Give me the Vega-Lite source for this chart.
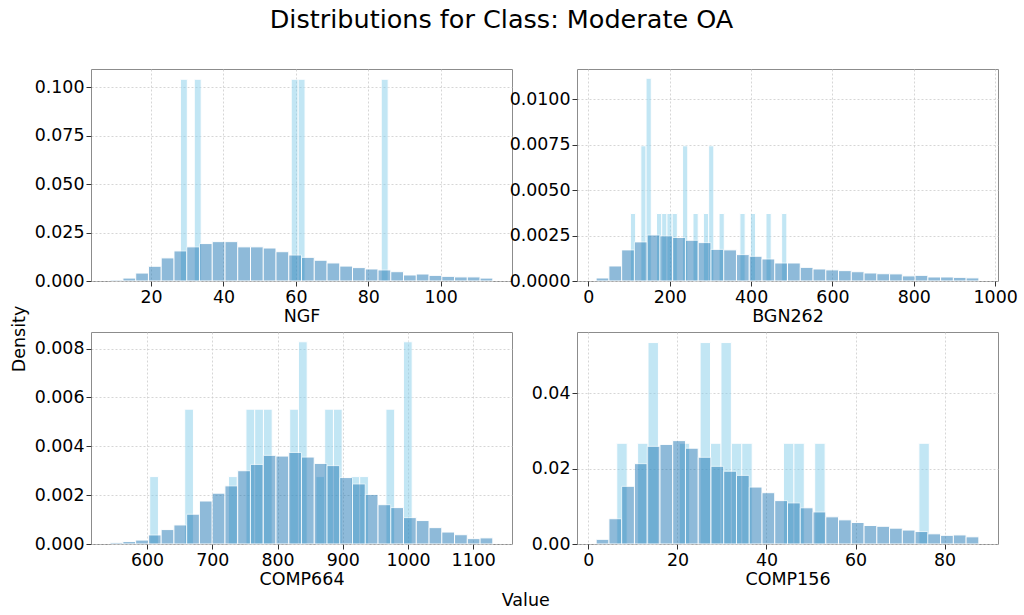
{
  "$schema": "https://vega.github.io/schema/vega-lite/v6.json",
  "background": "white",
  "padding": {"left": 11, "top": 8, "right": 5, "bottom": 5},
  "title": {"text": "Distributions for Class: Moderate OA", "fontSize": 25.5, "font": "DejaVu Sans", "fontWeight": "normal", "anchor": "middle", "offset": 35, "dx": -13, "color": "#000"},
  "data": {"values": [
    {"feature":"NGF","series":"All","start":8.70,"end":12.22,"density":0.0005},
    {"feature":"NGF","series":"All","start":12.22,"end":15.75,"density":0.0015},
    {"feature":"NGF","series":"All","start":15.75,"end":19.27,"density":0.0041},
    {"feature":"NGF","series":"All","start":19.27,"end":22.79,"density":0.0076},
    {"feature":"NGF","series":"All","start":22.79,"end":26.32,"density":0.0119},
    {"feature":"NGF","series":"All","start":26.32,"end":29.84,"density":0.0155},
    {"feature":"NGF","series":"All","start":29.84,"end":33.36,"density":0.0176},
    {"feature":"NGF","series":"All","start":33.36,"end":36.89,"density":0.0193},
    {"feature":"NGF","series":"All","start":36.89,"end":40.41,"density":0.0203},
    {"feature":"NGF","series":"All","start":40.41,"end":43.93,"density":0.0203},
    {"feature":"NGF","series":"All","start":43.93,"end":47.46,"density":0.0176},
    {"feature":"NGF","series":"All","start":47.46,"end":50.98,"density":0.0176},
    {"feature":"NGF","series":"All","start":50.98,"end":54.50,"density":0.0170},
    {"feature":"NGF","series":"All","start":54.50,"end":58.03,"density":0.0151},
    {"feature":"NGF","series":"All","start":58.03,"end":61.55,"density":0.0134},
    {"feature":"NGF","series":"All","start":61.55,"end":65.07,"density":0.0122},
    {"feature":"NGF","series":"All","start":65.07,"end":68.60,"density":0.0107},
    {"feature":"NGF","series":"All","start":68.60,"end":72.12,"density":0.0093},
    {"feature":"NGF","series":"All","start":72.12,"end":75.64,"density":0.0077},
    {"feature":"NGF","series":"All","start":75.64,"end":79.17,"density":0.0069},
    {"feature":"NGF","series":"All","start":79.17,"end":82.69,"density":0.0062},
    {"feature":"NGF","series":"All","start":82.69,"end":86.21,"density":0.0057},
    {"feature":"NGF","series":"All","start":86.21,"end":89.74,"density":0.0048},
    {"feature":"NGF","series":"All","start":89.74,"end":93.26,"density":0.0031},
    {"feature":"NGF","series":"All","start":93.26,"end":96.78,"density":0.0036},
    {"feature":"NGF","series":"All","start":96.78,"end":100.31,"density":0.0029},
    {"feature":"NGF","series":"All","start":100.31,"end":103.83,"density":0.0024},
    {"feature":"NGF","series":"All","start":103.83,"end":107.35,"density":0.0021},
    {"feature":"NGF","series":"All","start":107.35,"end":110.88,"density":0.0021},
    {"feature":"NGF","series":"All","start":110.88,"end":114.40,"density":0.0015},
    {"feature":"NGF","series":"Moderate OA","start":28.10,"end":30.01,"density":0.104},
    {"feature":"NGF","series":"Moderate OA","start":31.93,"end":33.84,"density":0.104},
    {"feature":"NGF","series":"Moderate OA","start":58.71,"end":60.62,"density":0.104},
    {"feature":"NGF","series":"Moderate OA","start":60.62,"end":62.53,"density":0.104},
    {"feature":"NGF","series":"Moderate OA","start":83.58,"end":85.49,"density":0.104},
    {"feature":"BGN262","series":"All","start":19.0,"end":50.37,"density":0.000165},
    {"feature":"BGN262","series":"All","start":50.37,"end":81.73,"density":0.000826},
    {"feature":"BGN262","series":"All","start":81.73,"end":113.1,"density":0.00171},
    {"feature":"BGN262","series":"All","start":113.1,"end":144.47,"density":0.00215},
    {"feature":"BGN262","series":"All","start":144.47,"end":175.83,"density":0.00253},
    {"feature":"BGN262","series":"All","start":175.83,"end":207.2,"density":0.00248},
    {"feature":"BGN262","series":"All","start":207.2,"end":238.57,"density":0.00239},
    {"feature":"BGN262","series":"All","start":238.57,"end":269.93,"density":0.00224},
    {"feature":"BGN262","series":"All","start":269.93,"end":301.3,"density":0.00211},
    {"feature":"BGN262","series":"All","start":301.3,"end":332.67,"density":0.00174},
    {"feature":"BGN262","series":"All","start":332.67,"end":364.03,"density":0.00171},
    {"feature":"BGN262","series":"All","start":364.03,"end":395.4,"density":0.00145},
    {"feature":"BGN262","series":"All","start":395.4,"end":426.77,"density":0.00136},
    {"feature":"BGN262","series":"All","start":426.77,"end":458.13,"density":0.00121},
    {"feature":"BGN262","series":"All","start":458.13,"end":489.5,"density":0.00099},
    {"feature":"BGN262","series":"All","start":489.5,"end":520.87,"density":0.00099},
    {"feature":"BGN262","series":"All","start":520.87,"end":552.23,"density":0.00075},
    {"feature":"BGN262","series":"All","start":552.23,"end":583.6,"density":0.00066},
    {"feature":"BGN262","series":"All","start":583.6,"end":614.97,"density":0.00061},
    {"feature":"BGN262","series":"All","start":614.97,"end":646.33,"density":0.00057},
    {"feature":"BGN262","series":"All","start":646.33,"end":677.7,"density":0.00051},
    {"feature":"BGN262","series":"All","start":677.7,"end":709.07,"density":0.00044},
    {"feature":"BGN262","series":"All","start":709.07,"end":740.43,"density":0.00040},
    {"feature":"BGN262","series":"All","start":740.43,"end":771.8,"density":0.00039},
    {"feature":"BGN262","series":"All","start":771.8,"end":803.17,"density":0.00028},
    {"feature":"BGN262","series":"All","start":803.17,"end":834.53,"density":0.00031},
    {"feature":"BGN262","series":"All","start":834.53,"end":865.9,"density":0.00022},
    {"feature":"BGN262","series":"All","start":865.9,"end":897.27,"density":0.00022},
    {"feature":"BGN262","series":"All","start":897.27,"end":928.63,"density":0.00020},
    {"feature":"BGN262","series":"All","start":928.63,"end":960.0,"density":0.00017},
    {"feature":"BGN262","series":"Moderate OA","start":103.30,"end":116.12,"density":0.00371},
    {"feature":"BGN262","series":"Moderate OA","start":128.94,"end":141.76,"density":0.00743},
    {"feature":"BGN262","series":"Moderate OA","start":141.76,"end":154.58,"density":0.01114},
    {"feature":"BGN262","series":"Moderate OA","start":167.40,"end":180.22,"density":0.00371},
    {"feature":"BGN262","series":"Moderate OA","start":180.22,"end":193.04,"density":0.00371},
    {"feature":"BGN262","series":"Moderate OA","start":193.04,"end":205.86,"density":0.00371},
    {"feature":"BGN262","series":"Moderate OA","start":205.86,"end":218.68,"density":0.00371},
    {"feature":"BGN262","series":"Moderate OA","start":231.50,"end":244.32,"density":0.00743},
    {"feature":"BGN262","series":"Moderate OA","start":257.14,"end":269.96,"density":0.00371},
    {"feature":"BGN262","series":"Moderate OA","start":282.78,"end":295.60,"density":0.00371},
    {"feature":"BGN262","series":"Moderate OA","start":295.60,"end":308.42,"density":0.00743},
    {"feature":"BGN262","series":"Moderate OA","start":321.24,"end":334.06,"density":0.00371},
    {"feature":"BGN262","series":"Moderate OA","start":372.52,"end":385.34,"density":0.00371},
    {"feature":"BGN262","series":"Moderate OA","start":398.16,"end":410.98,"density":0.00371},
    {"feature":"BGN262","series":"Moderate OA","start":436.62,"end":449.44,"density":0.00371},
    {"feature":"BGN262","series":"Moderate OA","start":475.08,"end":487.90,"density":0.00371},
    {"feature":"COMP664","series":"All","start":543.40,"end":562.95,"density":0.000055},
    {"feature":"COMP664","series":"All","start":562.95,"end":582.51,"density":0.0001},
    {"feature":"COMP664","series":"All","start":582.51,"end":602.06,"density":0.00016},
    {"feature":"COMP664","series":"All","start":602.06,"end":621.61,"density":0.00037},
    {"feature":"COMP664","series":"All","start":621.61,"end":641.17,"density":0.00059},
    {"feature":"COMP664","series":"All","start":641.17,"end":660.72,"density":0.00078},
    {"feature":"COMP664","series":"All","start":660.72,"end":680.27,"density":0.00122},
    {"feature":"COMP664","series":"All","start":680.27,"end":699.82,"density":0.00176},
    {"feature":"COMP664","series":"All","start":699.82,"end":719.38,"density":0.00208},
    {"feature":"COMP664","series":"All","start":719.38,"end":738.93,"density":0.00238},
    {"feature":"COMP664","series":"All","start":738.93,"end":758.48,"density":0.0030},
    {"feature":"COMP664","series":"All","start":758.48,"end":778.04,"density":0.00326},
    {"feature":"COMP664","series":"All","start":778.04,"end":797.59,"density":0.00363},
    {"feature":"COMP664","series":"All","start":797.59,"end":817.14,"density":0.0036},
    {"feature":"COMP664","series":"All","start":817.14,"end":836.70,"density":0.00375},
    {"feature":"COMP664","series":"All","start":836.70,"end":856.25,"density":0.00356},
    {"feature":"COMP664","series":"All","start":856.25,"end":875.80,"density":0.0033},
    {"feature":"COMP664","series":"All","start":875.80,"end":895.35,"density":0.00321},
    {"feature":"COMP664","series":"All","start":895.35,"end":914.91,"density":0.00272},
    {"feature":"COMP664","series":"All","start":914.91,"end":934.46,"density":0.00246},
    {"feature":"COMP664","series":"All","start":934.46,"end":954.01,"density":0.00203},
    {"feature":"COMP664","series":"All","start":954.01,"end":973.57,"density":0.00161},
    {"feature":"COMP664","series":"All","start":973.57,"end":993.12,"density":0.00149},
    {"feature":"COMP664","series":"All","start":993.12,"end":1012.67,"density":0.00108},
    {"feature":"COMP664","series":"All","start":1012.67,"end":1032.23,"density":0.00096},
    {"feature":"COMP664","series":"All","start":1032.23,"end":1051.78,"density":0.00067},
    {"feature":"COMP664","series":"All","start":1051.78,"end":1071.33,"density":0.00049},
    {"feature":"COMP664","series":"All","start":1071.33,"end":1090.88,"density":0.00038},
    {"feature":"COMP664","series":"All","start":1090.88,"end":1110.44,"density":0.00022},
    {"feature":"COMP664","series":"All","start":1110.44,"end":1130.0,"density":0.00025},
    {"feature":"COMP664","series":"Moderate OA","start":604.10,"end":617.51,"density":0.00276},
    {"feature":"COMP664","series":"Moderate OA","start":657.74,"end":671.15,"density":0.00552},
    {"feature":"COMP664","series":"Moderate OA","start":724.79,"end":738.20,"density":0.00276},
    {"feature":"COMP664","series":"Moderate OA","start":751.61,"end":765.02,"density":0.00552},
    {"feature":"COMP664","series":"Moderate OA","start":765.02,"end":778.43,"density":0.00552},
    {"feature":"COMP664","series":"Moderate OA","start":778.43,"end":791.84,"density":0.00552},
    {"feature":"COMP664","series":"Moderate OA","start":818.66,"end":832.07,"density":0.00552},
    {"feature":"COMP664","series":"Moderate OA","start":832.07,"end":845.48,"density":0.00828},
    {"feature":"COMP664","series":"Moderate OA","start":858.89,"end":872.30,"density":0.00276},
    {"feature":"COMP664","series":"Moderate OA","start":872.30,"end":885.71,"density":0.00552},
    {"feature":"COMP664","series":"Moderate OA","start":885.71,"end":899.12,"density":0.00552},
    {"feature":"COMP664","series":"Moderate OA","start":912.53,"end":925.94,"density":0.00276},
    {"feature":"COMP664","series":"Moderate OA","start":925.94,"end":939.35,"density":0.00276},
    {"feature":"COMP664","series":"Moderate OA","start":966.17,"end":979.58,"density":0.00552},
    {"feature":"COMP664","series":"Moderate OA","start":992.99,"end":1006.40,"density":0.00828},
    {"feature":"COMP156","series":"All","start":1.74,"end":4.61,"density":0.00124},
    {"feature":"COMP156","series":"All","start":4.61,"end":7.47,"density":0.0067},
    {"feature":"COMP156","series":"All","start":7.47,"end":10.34,"density":0.0153},
    {"feature":"COMP156","series":"All","start":10.34,"end":13.20,"density":0.0213},
    {"feature":"COMP156","series":"All","start":13.20,"end":16.07,"density":0.0259},
    {"feature":"COMP156","series":"All","start":16.07,"end":18.93,"density":0.0264},
    {"feature":"COMP156","series":"All","start":18.93,"end":21.80,"density":0.0274},
    {"feature":"COMP156","series":"All","start":21.80,"end":24.66,"density":0.0254},
    {"feature":"COMP156","series":"All","start":24.66,"end":27.53,"density":0.0230},
    {"feature":"COMP156","series":"All","start":27.53,"end":30.39,"density":0.0206},
    {"feature":"COMP156","series":"All","start":30.39,"end":33.26,"density":0.0193},
    {"feature":"COMP156","series":"All","start":33.26,"end":36.12,"density":0.0182},
    {"feature":"COMP156","series":"All","start":36.12,"end":38.99,"density":0.0151},
    {"feature":"COMP156","series":"All","start":38.99,"end":41.85,"density":0.0136},
    {"feature":"COMP156","series":"All","start":41.85,"end":44.72,"density":0.0115},
    {"feature":"COMP156","series":"All","start":44.72,"end":47.58,"density":0.0109},
    {"feature":"COMP156","series":"All","start":47.58,"end":50.45,"density":0.0096},
    {"feature":"COMP156","series":"All","start":50.45,"end":53.32,"density":0.0085},
    {"feature":"COMP156","series":"All","start":53.32,"end":56.18,"density":0.0072},
    {"feature":"COMP156","series":"All","start":56.18,"end":59.05,"density":0.0064},
    {"feature":"COMP156","series":"All","start":59.05,"end":61.91,"density":0.0057},
    {"feature":"COMP156","series":"All","start":61.91,"end":64.78,"density":0.0049},
    {"feature":"COMP156","series":"All","start":64.78,"end":67.64,"density":0.0047},
    {"feature":"COMP156","series":"All","start":67.64,"end":70.51,"density":0.0042},
    {"feature":"COMP156","series":"All","start":70.51,"end":73.37,"density":0.0037},
    {"feature":"COMP156","series":"All","start":73.37,"end":76.24,"density":0.0033},
    {"feature":"COMP156","series":"All","start":76.24,"end":79.10,"density":0.0027},
    {"feature":"COMP156","series":"All","start":79.10,"end":81.97,"density":0.0023},
    {"feature":"COMP156","series":"All","start":81.97,"end":84.83,"density":0.0024},
    {"feature":"COMP156","series":"All","start":84.83,"end":87.70,"density":0.0019},
    {"feature":"COMP156","series":"Moderate OA","start":6.37,"end":8.71,"density":0.0267},
    {"feature":"COMP156","series":"Moderate OA","start":11.05,"end":13.39,"density":0.0267},
    {"feature":"COMP156","series":"Moderate OA","start":13.39,"end":15.73,"density":0.0534},
    {"feature":"COMP156","series":"Moderate OA","start":20.41,"end":22.75,"density":0.0267},
    {"feature":"COMP156","series":"Moderate OA","start":25.09,"end":27.43,"density":0.0534},
    {"feature":"COMP156","series":"Moderate OA","start":27.43,"end":29.77,"density":0.0267},
    {"feature":"COMP156","series":"Moderate OA","start":29.77,"end":32.11,"density":0.0534},
    {"feature":"COMP156","series":"Moderate OA","start":32.11,"end":34.45,"density":0.0267},
    {"feature":"COMP156","series":"Moderate OA","start":34.45,"end":36.79,"density":0.0267},
    {"feature":"COMP156","series":"Moderate OA","start":43.81,"end":46.15,"density":0.0267},
    {"feature":"COMP156","series":"Moderate OA","start":46.15,"end":48.49,"density":0.0267},
    {"feature":"COMP156","series":"Moderate OA","start":50.83,"end":53.17,"density":0.0267},
    {"feature":"COMP156","series":"Moderate OA","start":74.23,"end":76.57,"density":0.0267}
  ]},
  "vconcat": [
    {
      "title": {"text": "Density", "orient": "left", "fontSize": 17.5, "font": "DejaVu Sans", "fontWeight": "normal", "anchor": "middle", "offset": 5, "color": "#000"},
      "vconcat": [
        {
          "title": {"text": "Value", "orient": "bottom", "fontSize": 17.5, "font": "DejaVu Sans", "fontWeight": "normal", "anchor": "middle", "offset": 3, "color": "#000"},
          "columns": 2,
          "bounds": "flush",
          "spacing": {"row": 51, "column": 65},
          "concat": [
            {
              "width": 421, "height": 212,
              "transform": [{"filter": "datum.feature === 'NGF'"}],
              "encoding": {
                "x": {"field": "start", "type": "quantitative", "scale": {"domain": [3.4, 119.7], "nice": false, "zero": false}, "axis": {"values": [20, 40, 60, 80, 100], "format": "d", "title": "NGF"}},
                "x2": {"field": "end"},
                "y": {"field": "density", "type": "quantitative", "scale": {"domain": [0, 0.1093], "nice": false}, "axis": {"values": [0, 0.025, 0.05, 0.075, 0.1], "format": ".3f", "title": null}},
                "y2": {"datum": 0}
              },
              "layer": [
                {"transform": [{"filter": "datum.series === 'Moderate OA'"}], "mark": {"type": "bar", "color": "#87ceeb", "opacity": 0.5, "stroke": "white", "strokeWidth": 1}},
                {"transform": [{"filter": "datum.series === 'All'"}], "mark": {"type": "bar", "color": "#1f77b4", "opacity": 0.5, "stroke": "white", "strokeWidth": 1}}
              ]
            },
            {
              "width": 421, "height": 212,
              "transform": [{"filter": "datum.feature === 'BGN262'"}],
              "encoding": {
                "x": {"field": "start", "type": "quantitative", "scale": {"domain": [-28, 1007], "nice": false, "zero": false}, "axis": {"values": [0, 200, 400, 600, 800, 1000], "format": "d", "title": "BGN262"}},
                "x2": {"field": "end"},
                "y": {"field": "density", "type": "quantitative", "scale": {"domain": [0, 0.01165], "nice": false}, "axis": {"values": [0, 0.0025, 0.005, 0.0075, 0.01], "format": ".4f", "title": null}},
                "y2": {"datum": 0}
              },
              "layer": [
                {"transform": [{"filter": "datum.series === 'Moderate OA'"}], "mark": {"type": "bar", "color": "#87ceeb", "opacity": 0.5, "stroke": "white", "strokeWidth": 1}},
                {"transform": [{"filter": "datum.series === 'All'"}], "mark": {"type": "bar", "color": "#1f77b4", "opacity": 0.5, "stroke": "white", "strokeWidth": 1}}
              ]
            },
            {
              "width": 421, "height": 212,
              "transform": [{"filter": "datum.feature === 'COMP664'"}],
              "encoding": {
                "x": {"field": "start", "type": "quantitative", "scale": {"domain": [514.1, 1159.4], "nice": false, "zero": false}, "axis": {"values": [600, 700, 800, 900, 1000, 1100], "format": "d", "title": "COMP664"}},
                "x2": {"field": "end"},
                "y": {"field": "density", "type": "quantitative", "scale": {"domain": [0, 0.00868], "nice": false}, "axis": {"values": [0, 0.002, 0.004, 0.006, 0.008], "format": ".3f", "title": null}},
                "y2": {"datum": 0}
              },
              "layer": [
                {"transform": [{"filter": "datum.series === 'Moderate OA'"}], "mark": {"type": "bar", "color": "#87ceeb", "opacity": 0.5, "stroke": "white", "strokeWidth": 1}},
                {"transform": [{"filter": "datum.series === 'All'"}], "mark": {"type": "bar", "color": "#1f77b4", "opacity": 0.5, "stroke": "white", "strokeWidth": 1}}
              ]
            },
            {
              "width": 421, "height": 212,
              "transform": [{"filter": "datum.feature === 'COMP156'"}],
              "encoding": {
                "x": {"field": "start", "type": "quantitative", "scale": {"domain": [-2.56, 92.0], "nice": false, "zero": false}, "axis": {"values": [0, 20, 40, 60, 80], "format": "d", "title": "COMP156"}},
                "x2": {"field": "end"},
                "y": {"field": "density", "type": "quantitative", "scale": {"domain": [0, 0.0562], "nice": false}, "axis": {"values": [0, 0.02, 0.04], "format": ".2f", "title": null}},
                "y2": {"datum": 0}
              },
              "layer": [
                {"transform": [{"filter": "datum.series === 'Moderate OA'"}], "mark": {"type": "bar", "color": "#87ceeb", "opacity": 0.5, "stroke": "white", "strokeWidth": 1}},
                {"transform": [{"filter": "datum.series === 'All'"}], "mark": {"type": "bar", "color": "#1f77b4", "opacity": 0.5, "stroke": "white", "strokeWidth": 1}}
              ]
            }
          ]
        }
      ]
    }
  ],
  "config": {
    "font": "DejaVu Sans",
    "view": {"stroke": "#8c8c8c", "strokeWidth": 1},
    "axis": {
      "domain": false,
      "tickSize": 5,
      "tickColor": "#333333",
      "labelFontSize": 17.4,
      "labelFont": "DejaVu Sans",
      "labelColor": "#000000",
      "labelPadding": 2,
      "labelOverlap": false,
      "labelFlush": false,
      "titleFontSize": 17.5,
      "titleFont": "DejaVu Sans",
      "titleFontWeight": "normal",
      "titleColor": "#000000",
      "titlePadding": 2.5,
      "gridColor": "#cccccc",
      "gridDash": [2, 2],
      "gridWidth": 0.8
    },
    "axisX": {"labelAngle": 0}
  }
}
